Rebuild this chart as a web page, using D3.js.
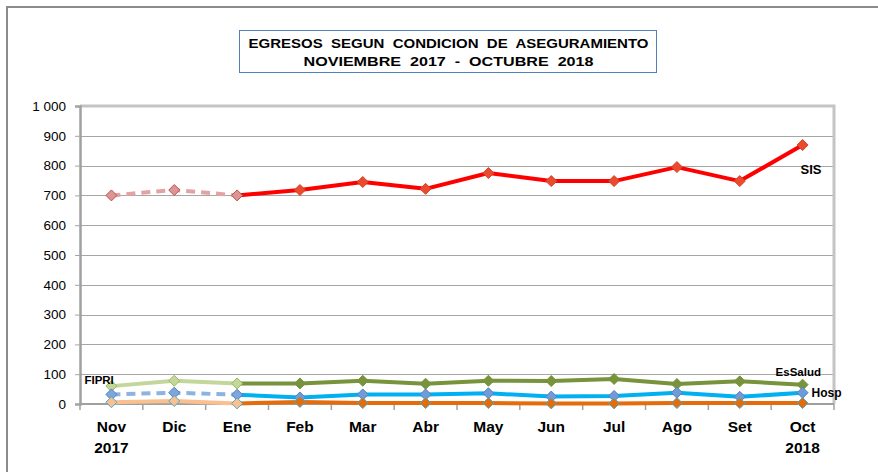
<!DOCTYPE html>
<html>
<head>
<meta charset="utf-8">
<script src="https://cdn.jsdelivr.net/npm/d3@7/dist/d3.min.js"></script>
<style>
  html, body { margin: 0; padding: 0; background: #fff; }
  svg { display: block; font-family: "Liberation Sans", Arial, sans-serif; }
</style>
</head>
<body>
<svg id="chart" width="878" height="472"></svg>
<script>
// Monthly discharges by insurance condition, Nov 2017 – Oct 2018
const months = ["Nov", "Dic", "Ene", "Feb", "Mar", "Abr", "May", "Jun", "Jul", "Ago", "Set", "Oct"];
const yearLabels = ["2017", "", "", "", "", "", "", "", "", "", "", "2018"];
const yTicks = [0, 100, 200, 300, 400, 500, 600, 700, 800, 900, 1000];

const sis      = [700, 718, 700, 718, 745, 722, 775, 748, 748, 795, 748, 869];
const esSalud  = [60, 78, 69, 69, 78, 68, 78, 77, 84, 67, 76, 65];
const hosp     = [32, 38, 31, 22, 32, 32, 36, 25, 27, 38, 24, 38];
const fipri    = [6, 10, 2, 7, 3, 3, 3, 2, 2, 3, 3, 3];

const titleLines = ["EGRESOS  SEGUN  CONDICION  DE  ASEGURAMIENTO", "NOVIEMBRE  2017  -  OCTUBRE  2018"];

// Series drawing styles: the first three months (2017 block) drawn lighter
const series = [
  { name: "SIS", values: sis,
    early: { stroke: "#e4a3a3", dash: "9,6", fill: "#d99694", mstroke: "#c0504d" },
    late:  { stroke: "#ff0000", dash: null, fill: "#ea4a2e", mstroke: "#d8402a" },
    label: { dx: -2, dy: 29, size: 13 } },
  { name: "EsSalud", values: esSalud,
    early: { stroke: "#c3d69b", dash: null, fill: "#c3d69b", mstroke: "#9bbb59" },
    late:  { stroke: "#77933c", dash: null, fill: "#77933c", mstroke: "#77933c" },
    label: { dx: -27, dy: -9, size: 11.5 } },
  { name: "Hosp", values: hosp,
    early: { stroke: "#8db3e2", dash: "9,6", fill: "#7fa6dc", mstroke: "#4f81bd" },
    late:  { stroke: "#00b0f0", dash: null, fill: "#6f9bd8", mstroke: "#4f81bd" },
    label: { dx: 9, dy: 4, size: 12 } },
  { name: "FIPRI", values: fipri,
    early: { stroke: "#fac090", dash: null, fill: "#fac090", mstroke: "#4bacc6" },
    late:  { stroke: "#e46c0a", dash: null, fill: "#e46c0a", mstroke: "#4bacc6" },
    label: { dx: -27, dy: -18, size: 11.5 } }
];

const svg = d3.select("#chart");
const plot = { left: 80, right: 834, top: 106, bottom: 404 };

const x = d3.scaleBand().domain(months).range([plot.left, plot.right]).padding(0);
const cx = m => x(m) + x.bandwidth() / 2;
const y = d3.scaleLinear().domain([0, 1000]).range([plot.bottom, plot.top]);

// Outer frame (top and left edges)
svg.append("path")
  .attr("d", `M7,472 V7 H878`)
  .attr("fill", "none").attr("stroke", "#8c8c8c").attr("stroke-width", 2);

// Title box
const tb = { x: 239, y: 30, w: 417, h: 42 };
svg.append("rect")
  .attr("x", tb.x + 0.5).attr("y", tb.y + 0.5).attr("width", tb.w).attr("height", tb.h)
  .attr("fill", "#fff").attr("stroke", "#4f81bd").attr("stroke-width", 1);
const titleWidths = [400, 290];
titleLines.forEach((t, i) => {
  svg.append("text")
    .attr("x", tb.x + tb.w / 2 - titleWidths[i] / 2 + 1)
    .attr("y", 48 + i * 18)
    .attr("textLength", titleWidths[i]).attr("lengthAdjust", "spacingAndGlyphs")
    .style("white-space", "pre")
    .attr("font-family", "'Liberation Sans Narrow', 'Liberation Sans', Arial, sans-serif")
    .attr("font-size", 13).attr("font-weight", "bold").attr("fill", "#000")
    .text(t);
});

// Gridlines
svg.append("g").selectAll("line").data(yTicks.slice(1, -1)).join("line")
  .attr("x1", plot.left).attr("x2", plot.right)
  .attr("y1", d => Math.round(y(d)) + 0.5).attr("y2", d => Math.round(y(d)) + 0.5)
  .attr("stroke", "#a6a6a6").attr("stroke-width", 1);

// Plot area border (top and right)
svg.append("path")
  .attr("d", `M${plot.left},${plot.top} H${plot.right} V${plot.bottom}`)
  .attr("fill", "none").attr("stroke", "#c4c4c4").attr("stroke-width", 3);

// Y axis
const yAxis = svg.append("g")
  .attr("transform", `translate(${plot.left},0)`)
  .call(d3.axisLeft(y).tickValues(yTicks).tickSize(5).tickPadding(9)
    .tickFormat(d => d3.format(",")(d).replace(",", " ")));
yAxis.select(".domain").attr("stroke", "#a0a0a0").attr("stroke-width", 2.5);
yAxis.selectAll(".tick line").attr("stroke", "#a6a6a6");
yAxis.selectAll(".tick text").attr("font-size", 13.5).attr("fill", "#000")
  .attr("font-family", "'Liberation Sans', Arial, sans-serif");

// X axis with ticks at category boundaries
const xAxis = svg.append("g").attr("transform", `translate(0,${plot.bottom})`);
xAxis.append("line")
  .attr("x1", plot.left).attr("x2", plot.right).attr("y1", 0).attr("y2", 0)
  .attr("stroke", "#a0a0a0").attr("stroke-width", 2);
xAxis.selectAll("line.tk").data(months.concat(["_end"])).join("line").attr("class", "tk")
  .attr("x1", (d, i) => i < months.length ? x(d) : plot.right)
  .attr("x2", (d, i) => i < months.length ? x(d) : plot.right)
  .attr("y1", 0).attr("y2", 6)
  .attr("stroke", "#a0a0a0").attr("stroke-width", 1.5);
xAxis.selectAll("text.m").data(months).join("text").attr("class", "m")
  .attr("x", d => cx(d)).attr("y", 28)
  .attr("text-anchor", "middle").attr("font-size", 15.5).attr("font-weight", "bold")
  .text(d => d);
xAxis.selectAll("text.yr").data(months).join("text").attr("class", "yr")
  .attr("x", d => cx(d)).attr("y", 49)
  .attr("text-anchor", "middle").attr("font-size", 15.5).attr("font-weight", "bold")
  .text((d, i) => yearLabels[i]);

// Series lines and markers
const line = d3.line().x(d => cx(d.m)).y(d => y(d.v));
const diamond = r => `M0,${-r}L${r},0L0,${r}L${-r},0Z`;

series.forEach(s => {
  const pts = s.values.map((v, i) => ({ m: months[i], v, i }));
  const g = svg.append("g");
  g.append("path").datum(pts.slice(0, 3))
    .attr("d", line).attr("fill", "none")
    .attr("stroke", s.early.stroke).attr("stroke-width", 4)
    .attr("stroke-dasharray", s.early.dash);
  g.append("path").datum(pts.slice(2))
    .attr("d", line).attr("fill", "none")
    .attr("stroke", s.late.stroke).attr("stroke-width", 4)
    .attr("stroke-linejoin", "round");
  g.selectAll("path.mk").data(pts).join("path").attr("class", "mk")
    .attr("transform", d => `translate(${cx(d.m)},${y(d.v)})`)
    .attr("d", diamond(5.5))
    .attr("fill", d => d.i < 3 ? s.early.fill : s.late.fill)
    .attr("stroke", d => d.i < 3 ? s.early.mstroke : s.late.mstroke)
    .attr("stroke-width", 1);
});

// Series name labels
series.forEach(s => {
  const idx = s.name === "FIPRI" ? 0 : s.values.length - 1;
  svg.append("text")
    .attr("x", cx(months[idx]) + s.label.dx)
    .attr("y", y(s.values[idx]) + s.label.dy)
    .attr("font-size", s.label.size).attr("font-weight", "bold").attr("fill", "#000")
    .text(s.name);
});
</script>
</body>
</html>
